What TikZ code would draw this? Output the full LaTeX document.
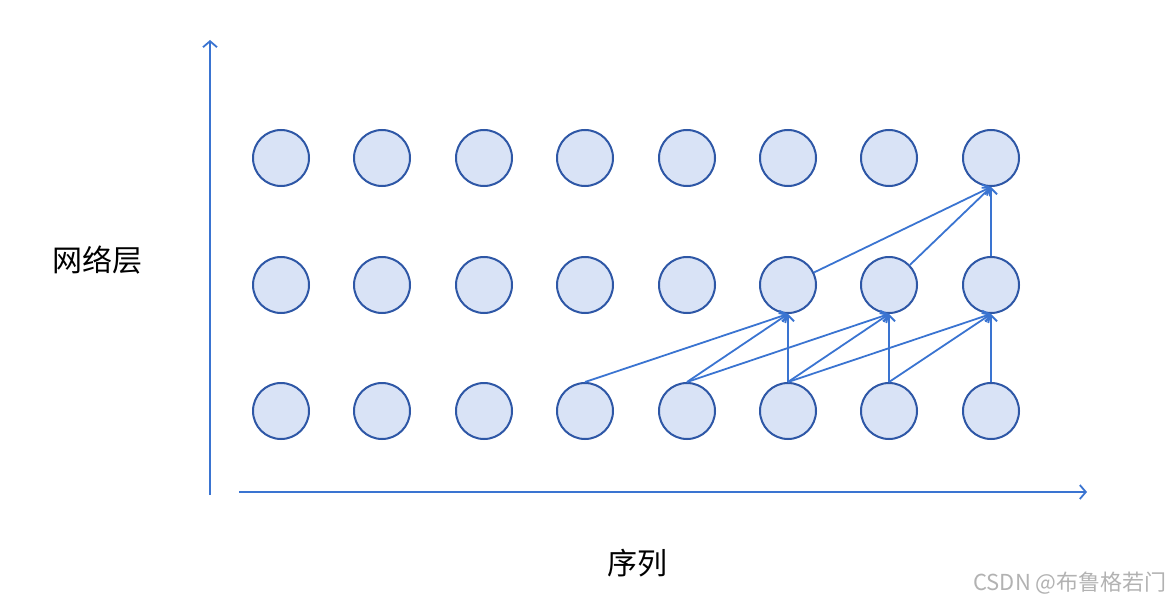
\documentclass[tikz,border=0pt]{standalone}
\usepackage{fontspec}
\newfontfamily\cjk{Noto Sans CJK SC}
\usetikzlibrary{arrows.meta}
\definecolor{cfill}{HTML}{D9E3F6}
\definecolor{cdraw}{HTML}{2E57A6}
\definecolor{carrow}{HTML}{3A74D1}
\begin{document}
\begin{tikzpicture}[x=1pt,y=-1pt,
  cell/.style={circle,draw=cdraw,fill=cfill,line width=2pt,minimum size=56pt,inner sep=0pt},
  link/.style={draw=carrow,line width=1.8pt,-{Straight Barb[length=6pt,width=12pt,line width=1.8pt]}},
  axis/.style={draw=carrow,line width=2pt,-{Straight Barb[length=6pt,width=14pt,line width=1.8pt]}},
  lab/.style={font=\cjk\fontsize{30}{34}\selectfont,text=black,inner sep=0pt}]
\useasboundingbox (0,0) rectangle (1174,604);
\foreach \i/\x in {1/281,2/382,3/484,4/585,5/687,6/788,7/889,8/991}{
  \node[cell] (t\i) at (\x,158) {};
  \node[cell] (m\i) at (\x,285) {};
  \node[cell] (b\i) at (\x,411) {};
}
\coordinate (ya) at (210,495);
\coordinate (yb) at (210,40);
\coordinate (xa) at (239,492);
\coordinate (xb) at (1087,492);
\draw[axis] (ya) -- (yb);
\draw[axis] (xa) -- (xb);
\node[lab] (ylab) at (97,260) {网络层};
\node[lab] (xlab) at (637,563) {序列};
\node[font=\cjk\fontsize{22}{24}\selectfont,text=black!30,inner sep=0pt] (wm) at (1070,583) {CSDN @布鲁格若门};
% bottom to middle
\draw[link] (b4.north) -- (m6.south);
\draw[link] (b5.north) -- (m6.south);
\draw[link] (b5.north) -- (m7.south);
\draw[link] (b6.north) -- (m6.south);
\draw[link] (b6.north) -- (m7.south);
\draw[link] (b6.north) -- (m8.south);
\draw[link] (b7.north) -- (m7.south);
\draw[link] (b7.north) -- (m8.south);
\draw[link] (b8.north) -- (m8.south);
% middle to top
\draw[link] (m6) -- (t8.south);
\draw[link] (m7) -- (t8.south);
\draw[link] (m8.north) -- (t8.south);
\end{tikzpicture}
\end{document}
